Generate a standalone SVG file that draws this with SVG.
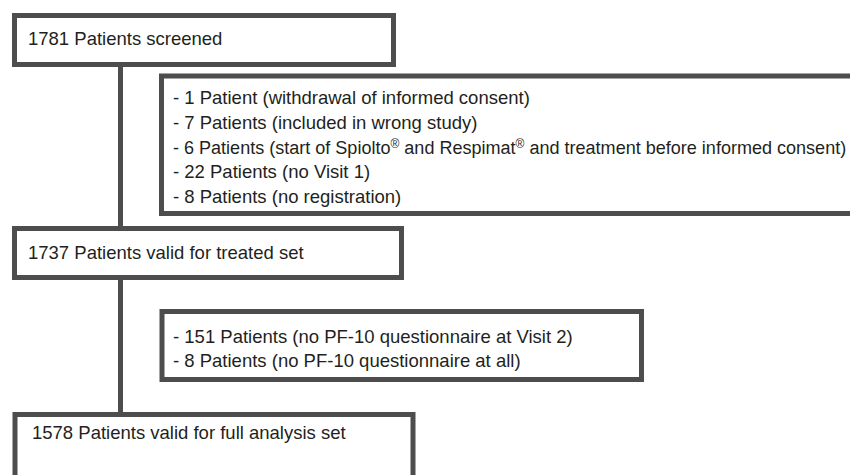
<svg xmlns="http://www.w3.org/2000/svg" width="850" height="475" viewBox="0 0 850 475">
  <style>
    .box { fill: #ffffff; stroke: #4d4d4d; stroke-width: 5; }
    .conn { stroke: #4d4d4d; stroke-width: 5; fill: none; }
    .t { font-family: "Liberation Sans", Arial, sans-serif; font-size: 18.5px; fill: #231f20; }
    .reg { font-size: 12px; baseline-shift: 6px; }
  </style>
  <rect width="850" height="475" fill="#ffffff"/>
  <g id="connectors">
    <line class="conn" x1="120.5" y1="65" x2="120.5" y2="229"/>
    <line class="conn" x1="120.5" y1="277" x2="120.5" y2="415"/>
  </g>
  <g id="screened">
    <rect class="box" x="14.5" y="15.5" width="379" height="49"/>
    <text class="t" x="28" y="45">1781 Patients screened</text>
  </g>
  <g id="excluded1">
    <rect class="box" x="161.5" y="76" width="700" height="137.5"/>
    <text class="t" x="173" y="104">- 1 Patient (withdrawal of informed consent)</text>
    <text class="t" x="173" y="129">- 7 Patients (included in wrong study)</text>
    <text class="t" x="173" y="154" style="font-size:18.05px">- 6 Patients (start of Spiolto<tspan class="reg">®</tspan> and Respimat<tspan class="reg">®</tspan> and treatment before informed consent)</text>
    <text class="t" x="173" y="178">- 22 Patients (no Visit 1)</text>
    <text class="t" x="173" y="203">- 8 Patients (no registration)</text>
  </g>
  <g id="treated">
    <rect class="box" x="14.5" y="228.5" width="387" height="49"/>
    <text class="t" x="28" y="259">1737 Patients valid for treated set</text>
  </g>
  <g id="excluded2">
    <rect class="box" x="162" y="311.5" width="479.5" height="68"/>
    <text class="t" x="173" y="343">- 151 Patients (no PF-10 questionnaire at Visit 2)</text>
    <text class="t" x="173" y="367">- 8 Patients (no PF-10 questionnaire at all)</text>
  </g>
  <g id="fullanalysis">
    <rect class="box" x="15" y="414.5" width="398" height="80"/>
    <text class="t" x="32" y="439">1578 Patients valid for full analysis set</text>
  </g>
</svg>
